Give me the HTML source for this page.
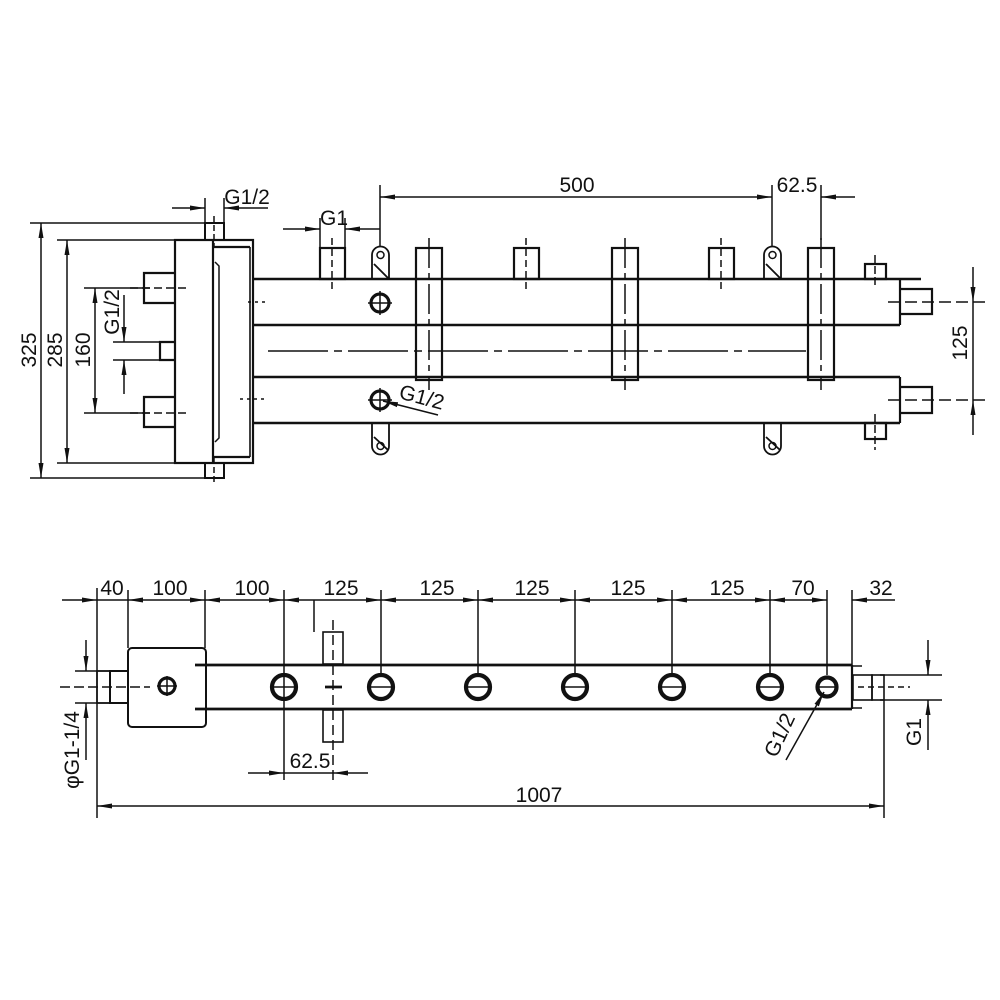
<!DOCTYPE html>
<html><head><meta charset="utf-8"><style>
html,body{margin:0;padding:0;background:#fff;}
svg{display:block;font-family:"Liberation Sans",sans-serif;}
</style></head><body>
<svg width="1000" height="1000" viewBox="0 0 1000 1000" xmlns="http://www.w3.org/2000/svg">
<defs>
<marker id="a" markerUnits="userSpaceOnUse" markerWidth="15" markerHeight="6" refX="15" refY="3" orient="auto-start-reverse"><path d="M0,0.5 L15,3 L0,5.5z" fill="#111"/></marker>
</defs>
<rect width="1000" height="1000" fill="#fff"/>
<g stroke="#111" fill="none" stroke-width="1.5">
<rect x="175" y="240" width="78" height="223" stroke-width="2.2"/>
<line x1="213" y1="240" x2="213" y2="463" stroke-width="2.2"/>
<line x1="213" y1="247" x2="250" y2="247" stroke-width="2.2"/>
<line x1="213" y1="457" x2="250" y2="457" stroke-width="2.2"/>
<line x1="250" y1="247" x2="250" y2="457" stroke-width="1.6"/>
<path d="M215,262 L219,266 L219,438 L215,442"/>
<rect x="205" y="223" width="19" height="17" stroke-width="2"/>
<rect x="205" y="463" width="19" height="15" stroke-width="2"/>
<line x1="214" y1="216" x2="214" y2="246" stroke-dasharray="6,3"/>
<line x1="214" y1="458" x2="214" y2="485" stroke-dasharray="6,3"/>
<path d="M175,273 L144,273 L144,303 L175,303" stroke-width="2.2"/>
<path d="M175,397 L144,397 L144,427 L175,427" stroke-width="2.2"/>
<path d="M175,342 L160,342 L160,360 L175,360" stroke-width="2.2"/>
<line x1="130" y1="288" x2="190" y2="288" stroke-dasharray="8,4"/>
<line x1="130" y1="413" x2="190" y2="413" stroke-dasharray="8,4"/>
<line x1="253" y1="279" x2="921" y2="279" stroke-width="2.5"/>
<line x1="253" y1="325" x2="900" y2="325" stroke-width="2.5"/>
<line x1="253" y1="377" x2="900" y2="377" stroke-width="2.5"/>
<line x1="253" y1="423" x2="900" y2="423" stroke-width="2.5"/>
<line x1="900" y1="279" x2="900" y2="325" stroke-width="2.2"/>
<line x1="900" y1="377" x2="900" y2="423" stroke-width="2.2"/>
<line x1="268" y1="351" x2="806" y2="351" stroke-dasharray="60,6,8,6"/>
<line x1="248" y1="302" x2="268" y2="302" stroke-dasharray="3,4"/>
<line x1="240" y1="399" x2="266" y2="399" stroke-dasharray="3,4"/>
<path d="M900,289 L932,289 L932,314 L900,314" stroke-width="2.2"/>
<path d="M900,387 L932,387 L932,413 L900,413" stroke-width="2.2"/>
<line x1="888" y1="302" x2="985" y2="302" stroke-dasharray="12,5"/>
<line x1="888" y1="400" x2="985" y2="400" stroke-dasharray="12,5"/>
<rect x="865" y="264" width="21" height="15" stroke-width="2.2"/>
<rect x="865" y="423" width="21" height="16" stroke-width="2.2"/>
<line x1="875" y1="255" x2="875" y2="288" stroke-dasharray="8,3"/>
<line x1="875" y1="414" x2="875" y2="450" stroke-dasharray="8,3"/>
<rect x="320" y="248" width="25" height="31" stroke-width="2.2"/>
<rect x="514" y="248" width="25" height="31" stroke-width="2.2"/>
<rect x="709" y="248" width="25" height="31" stroke-width="2.2"/>
<line x1="332" y1="238" x2="332" y2="290" stroke-dasharray="7,4"/>
<line x1="526" y1="238" x2="526" y2="290" stroke-dasharray="7,4"/>
<line x1="721" y1="238" x2="721" y2="290" stroke-dasharray="7,4"/>
<rect x="416" y="248" width="26" height="132" stroke-width="2.2"/>
<rect x="612" y="248" width="26" height="132" stroke-width="2.2"/>
<rect x="808" y="248" width="26" height="132" stroke-width="2.2"/>
<line x1="429" y1="238" x2="429" y2="390" stroke-dasharray="30,5,6,5"/>
<line x1="625" y1="238" x2="625" y2="390" stroke-dasharray="30,5,6,5"/>
<line x1="821" y1="238" x2="821" y2="390" stroke-dasharray="30,5,6,5"/>
<path d="M372,279 L372,255 A8.5,8.5 0 0 1 389,255 L389,279 M374,264 L388,278" stroke-width="1.8"/>
<path d="M372,423 L372,446 A8.5,8.5 0 0 0 389,446 L389,423 M374,437 L388,450" stroke-width="1.8"/>
<path d="M764,279 L764,255 A8.5,8.5 0 0 1 781,255 L781,279 M766,264 L780,278" stroke-width="1.8"/>
<path d="M764,423 L764,446 A8.5,8.5 0 0 0 781,446 L781,423 M766,437 L780,450" stroke-width="1.8"/>
<circle cx="380.5" cy="255" r="3.5"/><circle cx="380.5" cy="446" r="3.5"/>
<circle cx="772.5" cy="255" r="3.5"/><circle cx="772.5" cy="446" r="3.5"/>
<circle cx="380" cy="303" r="9" stroke-width="3.2"/>
<circle cx="380" cy="400" r="9" stroke-width="3.2"/>
<path d="M368,303 H392 M380,291 V315 M368,400 H392 M380,388 V412"/>
<line x1="30" y1="223" x2="205" y2="223"/>
<line x1="30" y1="478" x2="205" y2="478"/>
<line x1="57" y1="240" x2="175" y2="240"/>
<line x1="57" y1="463" x2="175" y2="463"/>
<line x1="84" y1="288" x2="150" y2="288"/>
<line x1="84" y1="413" x2="150" y2="413"/>
<line x1="113" y1="342" x2="160" y2="342"/>
<line x1="113" y1="360" x2="160" y2="360"/>
<line x1="41" y1="223" x2="41" y2="478" marker-start="url(#a)" marker-end="url(#a)"/>
<line x1="67" y1="240" x2="67" y2="463" marker-start="url(#a)" marker-end="url(#a)"/>
<line x1="95" y1="288" x2="95" y2="413" marker-start="url(#a)" marker-end="url(#a)"/>
<line x1="124" y1="295" x2="124" y2="342" marker-end="url(#a)"/>
<line x1="124" y1="394" x2="124" y2="360" marker-end="url(#a)"/>
<line x1="205" y1="198" x2="205" y2="223"/><line x1="224" y1="198" x2="224" y2="223"/>
<line x1="172" y1="208" x2="205" y2="208" marker-end="url(#a)"/>
<line x1="268" y1="208" x2="224" y2="208" marker-end="url(#a)"/>
<line x1="320" y1="218" x2="320" y2="248"/><line x1="345" y1="218" x2="345" y2="248"/>
<line x1="283" y1="229" x2="320" y2="229" marker-end="url(#a)"/>
<line x1="380" y1="229" x2="345" y2="229" marker-end="url(#a)"/>
<line x1="380" y1="185" x2="380" y2="246"/>
<line x1="772" y1="185" x2="772" y2="246"/>
<line x1="821" y1="185" x2="821" y2="240"/>
<line x1="380" y1="197" x2="772" y2="197" marker-start="url(#a)" marker-end="url(#a)"/>
<line x1="821" y1="197" x2="855" y2="197" marker-start="url(#a)"/>
<line x1="973" y1="267" x2="973" y2="302" marker-end="url(#a)"/>
<line x1="973" y1="435" x2="973" y2="400" marker-end="url(#a)"/>
<line x1="973" y1="302" x2="973" y2="400"/>
<line x1="438" y1="415" x2="383" y2="401" marker-end="url(#a)"/>

<rect x="128" y="648" width="78" height="79" rx="4" stroke-width="2"/>
<circle cx="167" cy="686" r="8" stroke-width="3.2"/>
<path d="M157,686 H177 M167,676 V696"/>
<rect x="110" y="671" width="18" height="32" stroke-width="2"/>
<rect x="97" y="671" width="13" height="32" stroke-width="1.6"/>
<line x1="60" y1="687" x2="150" y2="687" stroke-dasharray="10,4"/>
<line x1="75" y1="671" x2="110" y2="671"/><line x1="75" y1="703" x2="110" y2="703"/>
<line x1="195" y1="665" x2="852" y2="665" stroke-width="2.8"/>
<line x1="195" y1="709" x2="852" y2="709" stroke-width="2.8"/>
<line x1="852" y1="665" x2="852" y2="709" stroke-width="2.2"/>
<line x1="852" y1="666" x2="862" y2="666"/><line x1="852" y1="708" x2="862" y2="708"/>
<rect x="853" y="675" width="19" height="25" stroke-width="1.6"/>
<rect x="872" y="675" width="12" height="25" stroke-width="1.6"/>
<line x1="858" y1="687" x2="910" y2="687" stroke-dasharray="6,4"/>
<line x1="880" y1="675" x2="942" y2="675"/><line x1="880" y1="700" x2="942" y2="700"/>
<g stroke-width="4.2">
<circle cx="284" cy="687" r="12"/><circle cx="381" cy="687" r="12"/><circle cx="478" cy="687" r="12"/>
<circle cx="575" cy="687" r="12"/><circle cx="672" cy="687" r="12"/><circle cx="770" cy="687" r="12"/>
<circle cx="827" cy="687" r="9.5"/>
</g>
<path d="M272,687 H296 M369,687 H393 M466,687 H490 M563,687 H587 M660,687 H684 M758,687 H782 M817,687 H837"/>
<rect x="323" y="632" width="20" height="32" stroke-width="1.6"/>
<rect x="323" y="710" width="20" height="32" stroke-width="1.6"/>
<line x1="333" y1="620" x2="333" y2="780" stroke-dasharray="10,5"/>
<line x1="325" y1="687" x2="342" y2="687" stroke-width="2.8"/>
<line x1="314" y1="600" x2="314" y2="632"/>
<path d="M97,588 V818 M128,590 V648 M205,590 V648 M284,590 V780 M381,590 V675 M478,590 V675 M575,590 V675 M672,590 V675 M770,590 V675 M827,590 V675 M852,590 V665 M884,700 V818"/>
<line x1="62" y1="600" x2="97" y2="600" marker-end="url(#a)"/>
<line x1="128" y1="600" x2="205" y2="600" marker-start="url(#a)" marker-end="url(#a)"/>
<line x1="205" y1="600" x2="284" y2="600" marker-start="url(#a)" marker-end="url(#a)"/>
<line x1="284" y1="600" x2="381" y2="600" marker-start="url(#a)" marker-end="url(#a)"/>
<line x1="381" y1="600" x2="478" y2="600" marker-start="url(#a)" marker-end="url(#a)"/>
<line x1="478" y1="600" x2="575" y2="600" marker-start="url(#a)" marker-end="url(#a)"/>
<line x1="575" y1="600" x2="672" y2="600" marker-start="url(#a)" marker-end="url(#a)"/>
<line x1="672" y1="600" x2="770" y2="600" marker-start="url(#a)" marker-end="url(#a)"/>
<line x1="770" y1="600" x2="827" y2="600" marker-start="url(#a)" marker-end="url(#a)"/>
<line x1="97" y1="600" x2="128" y2="600"/>
<line x1="895" y1="600" x2="852" y2="600" marker-end="url(#a)"/>
<line x1="248" y1="773" x2="284" y2="773" marker-end="url(#a)"/>
<line x1="368" y1="773" x2="333" y2="773" marker-end="url(#a)"/>
<line x1="284" y1="773" x2="333" y2="773"/>
<line x1="97" y1="806" x2="884" y2="806" marker-start="url(#a)" marker-end="url(#a)"/>
<line x1="86" y1="640" x2="86" y2="671" marker-end="url(#a)"/>
<line x1="86" y1="760" x2="86" y2="703" marker-end="url(#a)"/>
<line x1="928" y1="640" x2="928" y2="675" marker-end="url(#a)"/>
<line x1="928" y1="750" x2="928" y2="700" marker-end="url(#a)"/>
<line x1="786" y1="760" x2="824" y2="692" marker-end="url(#a)"/>
</g>
<g font-size="21" fill="#111">
<text x="247" y="204" text-anchor="middle">G1/2</text>
<text x="334" y="225" text-anchor="middle">G1</text>
<text x="577" y="192" text-anchor="middle">500</text>
<text x="797" y="192" text-anchor="middle">62.5</text>
<text transform="translate(36,350) rotate(-90)" text-anchor="middle">325</text>
<text transform="translate(62,350) rotate(-90)" text-anchor="middle">285</text>
<text transform="translate(90,350) rotate(-90)" text-anchor="middle">160</text>
<text transform="translate(119,312) rotate(-90)" text-anchor="middle">G1/2</text>
<text transform="translate(967,343) rotate(-90)" text-anchor="middle">125</text>
<text transform="translate(420,404) rotate(15)" text-anchor="middle">G1/2</text>
<text x="112" y="595" text-anchor="middle">40</text>
<text x="170" y="595" text-anchor="middle">100</text>
<text x="252" y="595" text-anchor="middle">100</text>
<text x="341" y="595" text-anchor="middle">125</text>
<text x="437" y="595" text-anchor="middle">125</text>
<text x="532" y="595" text-anchor="middle">125</text>
<text x="628" y="595" text-anchor="middle">125</text>
<text x="727" y="595" text-anchor="middle">125</text>
<text x="803" y="595" text-anchor="middle">70</text>
<text x="881" y="595" text-anchor="middle">32</text>
<text x="310" y="768" text-anchor="middle">62.5</text>
<text x="539" y="802" text-anchor="middle">1007</text>
<text transform="translate(79,750) rotate(-90)" text-anchor="middle">φG1-1/4</text>
<text transform="translate(921,732) rotate(-90)" text-anchor="middle">G1</text>
<text transform="translate(786,738) rotate(-65)" text-anchor="middle">G1/2</text>
</g>
</svg>
</body></html>
